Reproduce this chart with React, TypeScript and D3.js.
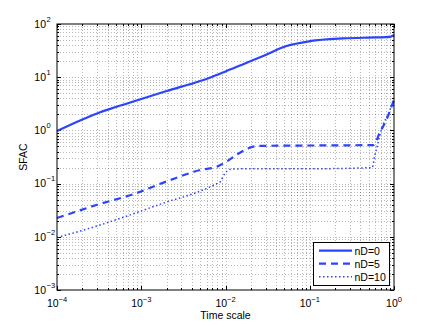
import React from 'react'
import * as d3 from 'd3'

// values (log-log)
const time0 = [1e-4, 2e-4, 3.2e-4, 5e-4, 1e-3, 2e-3, 5e-3, 6.5e-3, 0.01, 0.016, 0.028, 0.053, 0.1, 0.25, 0.5, 0.8, 0.92, 1]
const sfac0 = [0.97, 1.6, 2.17, 2.75, 3.9, 5.5, 8.5, 9.8, 12.8, 17.4, 25, 38.5, 47.5, 53.5, 55.5, 56.5, 58, 62]

const time5 = [1e-4, 3e-4, 8e-4, 2e-3, 5e-3, 8e-3, 0.0103, 0.014, 0.018, 0.024, 0.1, 0.57, 0.68, 0.82, 1]
const sfac5 = [0.0225, 0.04, 0.063, 0.11, 0.18, 0.21, 0.26, 0.36, 0.45, 0.51, 0.52, 0.53, 0.92, 1.63, 3.8]

const time10 = [1e-4, 3e-4, 6e-4, 2e-3, 5e-3, 7.9e-3, 0.0086, 0.0098, 0.0113, 0.016, 0.1, 0.55, 0.59, 0.62, 0.73, 0.85, 1]
const sfac10 = [0.0097, 0.016, 0.023, 0.045, 0.072, 0.1, 0.107, 0.153, 0.185, 0.19, 0.19, 0.2, 0.33, 0.45, 1.2, 2.0, 3.8]

const seriesNames = ['nD=0', 'nD=5', 'nD=10']
const xTickExps = [-4, -3, -2, -1, 0]
const yTickExps = [-3, -2, -1, 0, 1, 2]

const blue = '#2d43ff'
const dashes = [null, '7,5', '1.5,2.5']
const widths = [2.2, 2.2, 1.5]

const App = () => {
	const width = 436,
		height = 327
	const left = 57,
		right = 394,
		top = 24,
		bottom = 290

	const x = d3.scaleLog().domain([1e-4, 1]).range([left, right])
	const y = d3.scaleLog().domain([1e-3, 1e2]).range([bottom, top])

	const series = [
		d3.zip(time0, sfac0),
		d3.zip(time5, sfac5),
		d3.zip(time10, sfac10),
	]

	const line = d3
		.line<number[]>()
		.x(d => x(d[0]))
		.y(d => y(d[1]))
		.curve(d3.curveMonotoneX)

	// minor + major positions for the grid
	const xGrid = x.ticks().filter(t => t > 1e-4 && t < 1)
	const yGrid = y.ticks().filter(t => t > 1e-3 && t < 1e2)
	const xAll = x.ticks()
	const yAll = y.ticks()
	const isMajor = (v: number) => Math.abs(Math.log10(v) - Math.round(Math.log10(v))) < 1e-9

	const font = 'Liberation Sans, Arial, sans-serif'

	return (
		<svg
			width={width}
			height={height}
			style={{ position: 'absolute', left: 0, top: 0, background: '#fff' }}
			fontFamily={font}
		>
			<rect x={0} y={0} width={width} height={height} fill='#fff' />
			{/* grid */}
			<g stroke='#000' strokeOpacity={0.28} strokeWidth={1} strokeDasharray='1,2'>
				{xGrid.map((t, i) => (
					<line key={'gx' + i} x1={Math.round(x(t)) + 0.5} x2={Math.round(x(t)) + 0.5} y1={top} y2={bottom} />
				))}
				{yGrid.map((t, i) => (
					<line key={'gy' + i} y1={Math.round(y(t)) + 0.5} y2={Math.round(y(t)) + 0.5} x1={left} x2={right} />
				))}
			</g>
			{/* ticks on all sides */}
			<g stroke='#000' strokeWidth={1}>
				{xAll.map((t, i) => {
					const px = Math.round(x(t)) + 0.5
					const len = isMajor(t) ? 4 : 2
					return (
						<g key={'tx' + i}>
							<line x1={px} x2={px} y1={bottom} y2={bottom - len} />
							<line x1={px} x2={px} y1={top} y2={top + len} />
						</g>
					)
				})}
				{yAll.map((t, i) => {
					const py = Math.round(y(t)) + 0.5
					const len = isMajor(t) ? 4 : 2
					return (
						<g key={'ty' + i}>
							<line y1={py} y2={py} x1={left} x2={left + len} />
							<line y1={py} y2={py} x1={right} x2={right - len} />
						</g>
					)
				})}
			</g>
			{/* curves */}
			<g fill='none' stroke={blue}>
				{series.map((s, i) => (
					<path
						key={'s' + i}
						d={line(s) || ''}
						strokeWidth={widths[i]}
						strokeDasharray={dashes[i] || undefined}
					/>
				))}
			</g>
			{/* box */}
			<rect x={left} y={top} width={right - left} height={bottom - top} fill='none' stroke='#000' strokeWidth={1} />
			{/* tick labels */}
			<g fontSize={10.5} fill='#000'>
				{xTickExps.map(e => (
					<text key={'xl' + e} x={x(Math.pow(10, e))} y={306.5} textAnchor='middle'>
						10
						<tspan fontSize={7.5} dy={-5}>
							{e < 0 ? '\u2212' + -e : e}
						</tspan>
					</text>
				))}
				{yTickExps.map(e => (
					<g key={'yl' + e}>
						<text x={46} y={y(Math.pow(10, e)) + 3.8} textAnchor='end'>
							10
						</text>
						<text x={46.5} y={y(Math.pow(10, e)) - 2.3} fontSize={7.5}>
							{e < 0 ? '\u2212' + -e : e}
						</text>
					</g>
				))}
			</g>
			{/* axis labels */}
			<text x={(left + right) / 2} y={318.5} fontSize={10.5} textAnchor='middle'>
				Time scale
			</text>
			<text
				transform={`translate(26.5,${(top + bottom) / 2}) rotate(-90)`}
				fontSize={10.5}
				textAnchor='middle'
			>
				SFAC
			</text>
			{/* legend */}
			<g>
				<rect x={313.5} y={242.5} width={76} height={43} fill='#fff' stroke='#000' strokeWidth={1} />
				{seriesNames.map((n, i) => {
					const ry = 250.7 + i * 13
					return (
						<g key={'lg' + i}>
							<line
								x1={319}
								x2={352}
								y1={ry}
								y2={ry}
								stroke={blue}
								strokeWidth={widths[i]}
								strokeDasharray={dashes[i] || undefined}
							/>
							<text x={354.5} y={ry + 3.8} fontSize={10.5}>
								{n}
							</text>
						</g>
					)
				})}
			</g>
		</svg>
	)
}

export default App
